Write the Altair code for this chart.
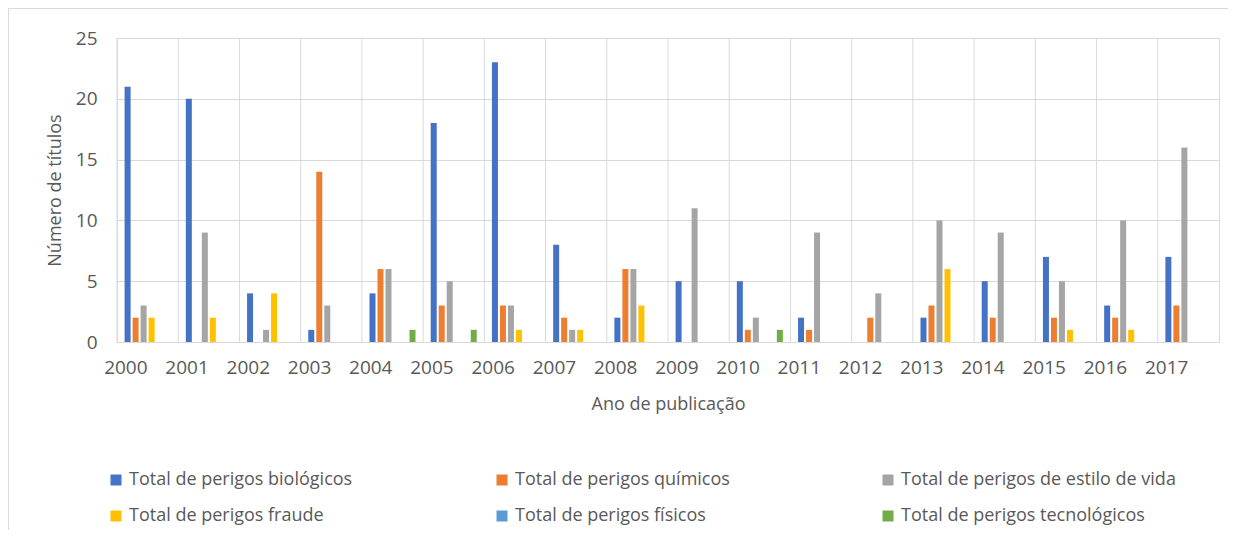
import altair as alt
import pandas as pd

years = [str(y) for y in range(2000, 2018)]
series = [
    "Total de perigos biológicos",
    "Total de perigos químicos",
    "Total de perigos de estilo de vida",
    "Total de perigos fraude",
    "Total de perigos físicos",
    "Total de perigos tecnológicos",
]
colors = ["#4472C4", "#ED7D31", "#A5A5A5", "#FFC000", "#5B9BD5", "#70AD47"]

biologicos = [21, 20, 4, 1, 4, 18, 23, 8, 2, 5, 5, 2, 0, 2, 5, 7, 3, 7]
quimicos = [2, 0, 0, 14, 6, 3, 3, 2, 6, 0, 1, 1, 2, 3, 2, 2, 2, 3]
estilo_vida = [3, 9, 1, 3, 6, 5, 3, 1, 6, 11, 2, 9, 4, 10, 9, 5, 10, 16]
fraude = [2, 2, 4, 0, 0, 0, 1, 1, 3, 0, 0, 0, 0, 6, 0, 1, 1, 0]
fisicos = [0] * 18
tecnologicos = [0, 0, 0, 0, 1, 1, 0, 0, 0, 0, 1, 0, 0, 0, 0, 0, 0, 0]

values = [biologicos, quimicos, estilo_vida, fraude, fisicos, tecnologicos]
rows = []
for s, vals in zip(series, values):
    for y, v in zip(years, vals):
        rows.append({"year": y, "series": s, "value": v})
df = pd.DataFrame(rows)
grid_df = pd.DataFrame({"year": years})

FONT = "Open Sans"
TXT = "#595959"
GRID = "#d9d9d9"
W = 1102

xscale = alt.Scale(domain=years, paddingInner=0, paddingOuter=0)

bars = alt.Chart(df).mark_bar().encode(
    x=alt.X("year:O", scale=xscale,
            axis=alt.Axis(title="Ano de publicação", labelAngle=0, ticks=False,
                          domainColor=GRID,
                          labelPadding=25, titlePadding=18, labelFontSize=19)),
    xOffset=alt.XOffset("series:N", scale=alt.Scale(domain=series, paddingInner=0.25, paddingOuter=0.95)),
    y=alt.Y("value:Q", scale=alt.Scale(domain=[0, 25]),
            axis=alt.Axis(title="Número de títulos", values=[0, 5, 10, 15, 20, 25],
                          ticks=False, domain=False, labelPadding=20, titlePadding=11,
                          labelFontSize=19, gridColor=GRID)),
    color=alt.Color("series:N", scale=alt.Scale(domain=series, range=colors),
                    legend=alt.Legend(title=None, orient="none", legendX=-10, legendY=433,
                                      direction="horizontal",
                                      columns=3, gridAlign="all", columnPadding=89,
                                      rowPadding=18, symbolType="square", symbolSize=121,
                                      labelLimit=400, symbolStrokeWidth=0)),
)

# category gridlines at the left edge of each year band
vgrid = alt.Chart(grid_df).mark_rule(color=GRID, strokeWidth=1, xOffset=-W / len(years) / 2).encode(
    x=alt.X("year:O", scale=xscale)
)

one = pd.DataFrame({"a": [0]})
frame_top = alt.Chart(one).mark_rule(color=GRID, strokeWidth=1).encode(
    x=alt.value(-108.5), x2=alt.value(1111), y=alt.value(-29.5)
)
frame_left = alt.Chart(one).mark_rule(color=GRID, strokeWidth=1).encode(
    x=alt.value(-108.5), y=alt.value(-29.5), y2=alt.value(700)
)

chart = alt.layer(frame_top, frame_left, vgrid, bars).properties(
    width=W, height=304,
    autosize=alt.AutoSizeParams(type="none"),
    padding={"left": 109, "top": 30, "right": 9, "bottom": 188},
).configure_view(
    stroke=GRID
).configure_axis(
    labelFont=FONT, titleFont=FONT, labelFontSize=18, titleFontSize=18,
    labelColor=TXT, titleColor=TXT, titleFontWeight="normal", gridColor=GRID,
).configure_legend(
    labelFont=FONT, labelFontSize=18, labelColor=TXT,
)

chart.save("out.html", embed_options={"renderer": "svg", "actions": False})
